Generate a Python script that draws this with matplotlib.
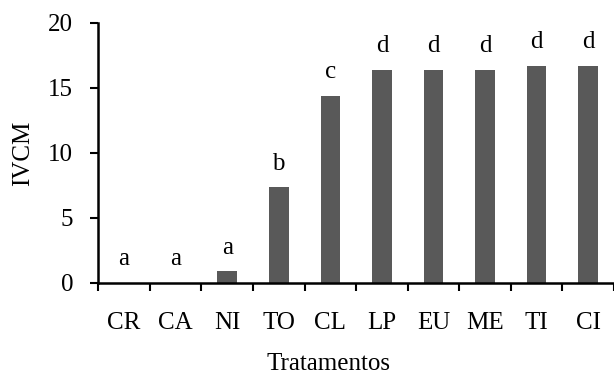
import numpy as np
import matplotlib.pyplot as plt

plt.rcParams['font.family'] = ['Liberation Serif', 'DejaVu Serif']

tratamentos = ['CR', 'CA', 'NI', 'TO', 'CL', 'LP', 'EU', 'ME', 'TI', 'CI']
ivcm = [0.0, 0.0, 0.9, 7.35, 14.4, 16.4, 16.4, 16.4, 16.7, 16.7]
letras = ['a', 'a', 'a', 'b', 'c', 'd', 'd', 'd', 'd', 'd']

fig = plt.figure(figsize=(6.14, 3.77), dpi=100)
ax = fig.add_axes([0.16, 0.25, 0.84, 0.689])

x = np.arange(len(tratamentos))
ax.bar(x, ivcm, width=0.38, color='#595959', zorder=2)

for xi, h, l in zip(x, ivcm, letras):
    ax.text(xi, h + 1.35, l, ha='center', va='baseline', fontsize=18)

ax.set_xlim(-0.5, len(tratamentos) - 0.5)
ax.set_ylim(0, 20)
ax.set_yticks([0, 5, 10, 15, 20])
ax.set_xticks(x)
ax.set_xticklabels(tratamentos)
ax.set_xticks(np.arange(-0.5, len(tratamentos)), minor=True)
ax.tick_params(axis='x', which='major', length=0, pad=21, labelsize=18)
ax.tick_params(axis='x', which='minor', length=6, width=1.5, direction='out')
ax.tick_params(axis='y', length=6, width=1.5, direction='out', labelsize=18, pad=12)

for s in ['top', 'right']:
    ax.spines[s].set_visible(False)
for s in ['left', 'bottom']:
    ax.spines[s].set_linewidth(1.8)
ax.spines['bottom'].set_zorder(3)

ax.set_ylabel('IVCM', fontsize=18, labelpad=10)
fig.text(0.535, 0.004, 'Tratamentos', ha='center', va='bottom', fontsize=18)

fig.savefig('out.png', dpi=100)
